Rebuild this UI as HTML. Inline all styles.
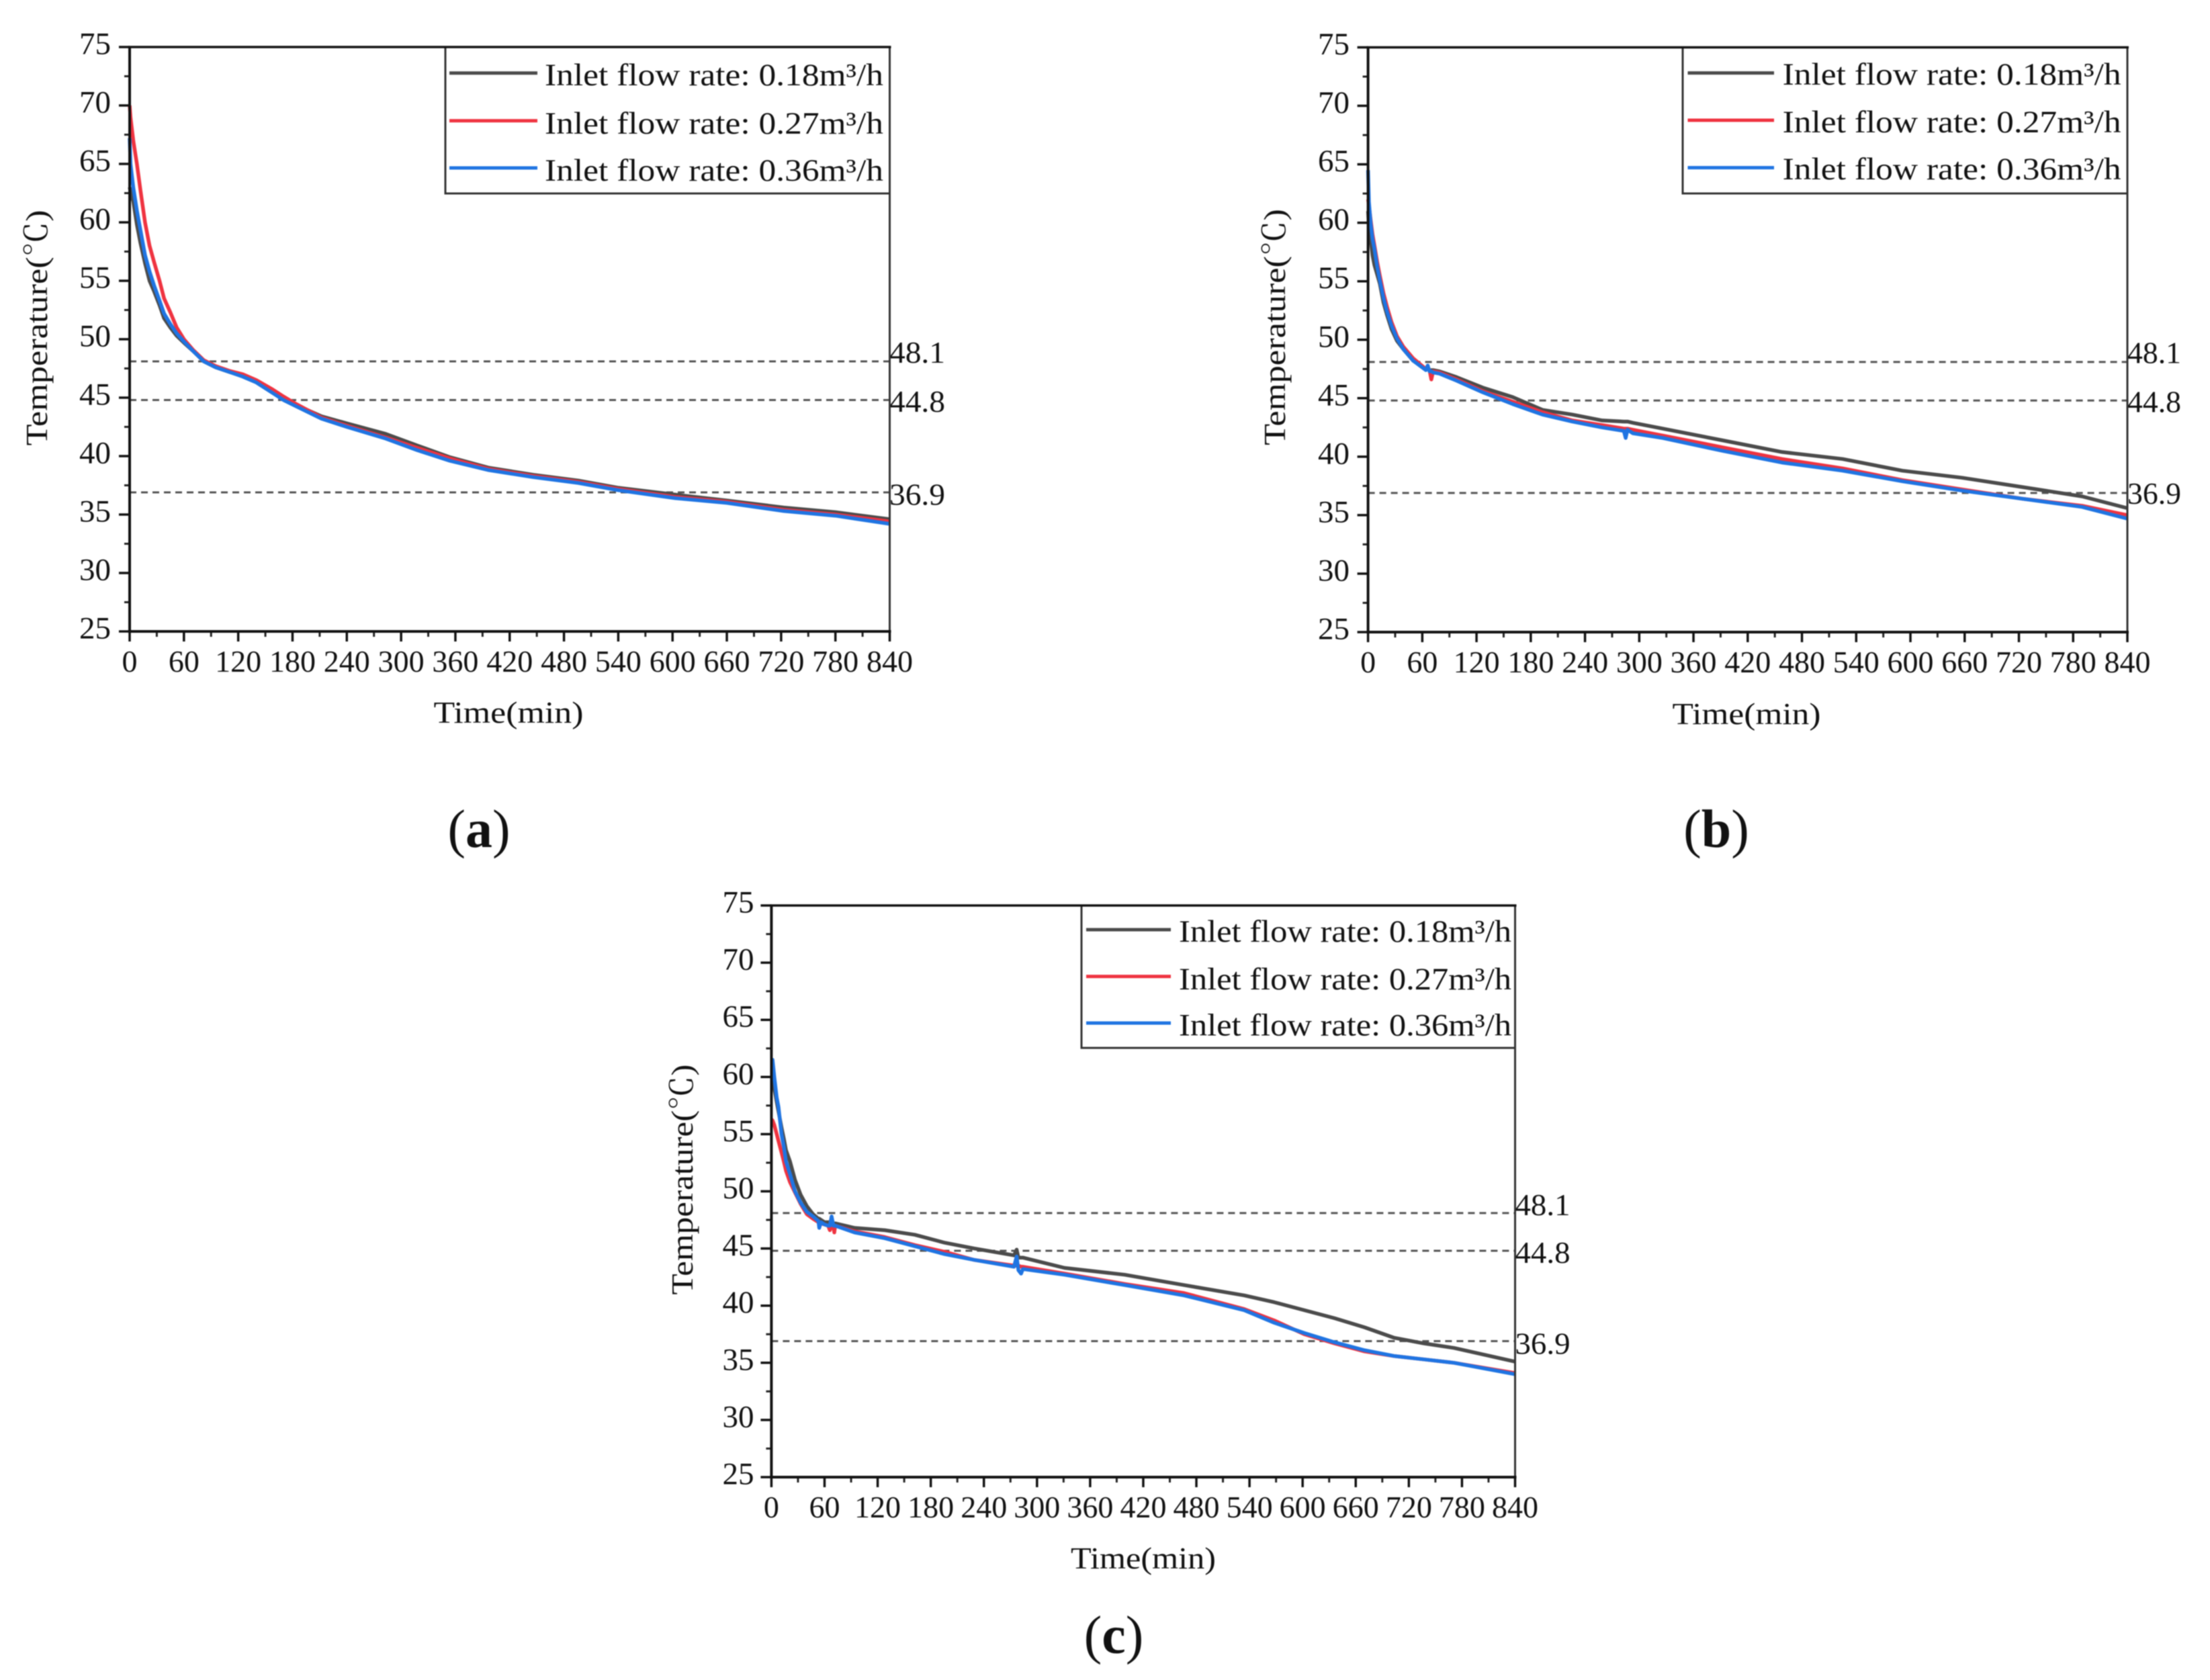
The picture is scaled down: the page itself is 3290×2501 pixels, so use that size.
<!DOCTYPE html>
<html lang="en">
<head>
<meta charset="utf-8">
<title>Temperature vs. time at three inlet flow rates</title>
<style>
html,body{margin:0;padding:0;background:#fff;width:3290px;height:2501px;overflow:hidden}
svg{display:block;filter:blur(0.7px)}
text{font-family:"Liberation Serif","Noto Serif CJK SC",serif;fill:#111}
</style>
</head>
<body>
<svg id="figure" xmlns="http://www.w3.org/2000/svg" width="3290" height="2501" viewBox="0 0 3290 2501">
  <rect x="0" y="0" width="3290" height="2501" fill="#ffffff"/>
</svg>
<script>
// ---------- shared chart values ----------
const yTickLabels = [25,30,35,40,45,50,55,60,65,70,75];
const xTickLabels = [0,60,120,180,240,300,360,420,480,540,600,660,720,780,840];
const refLevels = [48.1,44.8,36.9];
const seriesNames = ['Inlet flow rate: 0.18m³/h','Inlet flow rate: 0.27m³/h','Inlet flow rate: 0.36m³/h'];

// ---------- panel (a) ----------
const timeA  = [0,1,4,8,12,17,22,27,33,38,45,52,60,70,82,95,110,125,140,158,170,183,212,240,283,318,354,397,446,496,539,603,660,723,780,840];
const blackA = [63,62.6,61.8,59.8,58.2,56.5,55,54.1,52.9,51.8,51,50.3,49.7,49,48.1,47.6,47.2,46.9,46.4,45.5,44.9,44.4,43.4,42.8,41.9,40.9,39.9,39,38.4,37.9,37.3,36.7,36.2,35.6,35.2,34.6];
const redA   = [70,69,67,65,62.7,60,58,56.6,55,53.5,52.3,51,50,49.1,48.2,47.7,47.3,47,46.5,45.7,45.1,44.5,43.3,42.6,41.6,40.7,39.8,38.9,38.3,37.8,37.2,36.5,36.1,35.4,35,34.4];
const blueA  = [67.2,65,63,61,59.3,57.2,55.8,54.6,53.3,52.2,51.3,50.5,49.8,49,48.1,47.6,47.2,46.8,46.3,45.4,44.8,44.3,43.2,42.5,41.5,40.5,39.6,38.8,38.2,37.7,37.1,36.4,36,35.3,34.9,34.2];

// ---------- panel (b) ----------
const timeB  = [0,1,3,5,7,10,13,17,21,26,32,39,50,64,66,68,70,72,79,98,127,160,193,226,259,283,285,287,293,326,392,458,525,591,657,724,790,840];
const blackB = [61,59.6,58.5,57.2,56.4,55.6,54.8,53.2,52.1,50.9,49.9,49.2,48.2,47.5,47.5,47.4,47.4,47.4,47.3,46.8,45.9,45.1,44,43.6,43.1,43,43,43,42.9,42.4,41.4,40.4,39.8,38.8,38.2,37.4,36.6,35.6];
const redB   = [62,61.5,60.2,59,58.1,56.7,55.5,54,52.8,51.5,50.3,49.4,48.4,47.5,47.5,47.4,46.6,47.3,47.2,46.6,45.6,44.7,43.8,43.1,42.7,42.4,42.4,42.4,42.3,41.8,40.8,39.8,39,38,37.2,36.4,35.8,35];
const blueB  = [64.5,61.8,59.9,58.6,57.8,56.3,55.1,53.6,52.4,51.2,50.1,49.2,48.2,47.4,47.8,47.3,47.3,47.2,47.1,46.5,45.5,44.5,43.6,43,42.5,42.2,41.6,42.3,42,41.6,40.5,39.5,38.8,37.9,37.1,36.4,35.7,34.7];

// ---------- panel (c) ----------
const timeC  = [0,1.3,3.3,6,8,11.4,14,16.5,21,26.6,33,40,47,53,54,56,60,64,66,68,70,71,72,94,128,162,196,229,274,277,279,282,284,331,399,466,534,568,602,636,670,703,737,771,840];
const blackC = [60,60,59,57.8,57,55.6,54.6,53.6,52.6,51,49.7,48.7,48,47.6,47.6,47.5,47.3,47.3,47.3,47.3,47.2,47.2,47.2,46.8,46.6,46.2,45.5,45,44.4,44.9,44.2,44.2,44.2,43.3,42.7,41.8,40.9,40.3,39.6,38.9,38.1,37.2,36.7,36.3,35.1];
const redC   = [56.3,56.2,55.8,55,54.4,53.4,52.6,51.8,50.8,49.9,48.9,48,47.6,47.3,47.2,47.2,47.1,47,46.6,47,47,46.4,47,46.5,46,45.3,44.7,44,43.5,43.5,43.5,43.4,43.4,42.8,41.9,41.1,39.7,38.7,37.5,36.7,36,35.6,35.3,35,34.1];
const blueC  = [61.5,61.5,60,58.2,57.4,55,53.9,52.6,51.5,50,49,48.2,47.8,47.4,46.8,47.3,47.1,47,47,47.8,47,47,47,46.4,45.9,45.2,44.5,44,43.4,44.3,43.1,42.8,43.2,42.7,41.8,40.9,39.6,38.5,37.6,36.8,36.1,35.6,35.3,35,34];

// ---------- layout (not data) ----------
const seriesColors = ['#4b4b4b','#ef3340','#1f74e2'];
const panels = [
  {id:'a', time:timeA, series:[blackA,redA,blueA], left:193, right:1324.5, top:70, bottom:940,
   yLabelRight:165, yTitleX:70, yTitleMid:488, yTitleLen:351,
   xTitleMid:757, xTitleBase:1076, xTitleLen:223,
   capMid:713, capBase:1261,
   legLeft:663, legBottom:288, swatchL:669, swatchR:800, textX:811, textLen:504,
   swatchY:[108.7,179.7,250], legBase:[127,199,269],
   refX:1324, refLen:83, refBase:[540,613,751.5]},
  {id:'b', time:timeB, series:[blackB,redB,blueB], left:2036.6, right:3167, top:70.5, bottom:941,
   yLabelRight:2009, yTitleX:1913, yTitleMid:487, yTitleLen:352,
   xTitleMid:2600, xTitleBase:1078, xTitleLen:221,
   capMid:2555, capBase:1261,
   legLeft:2505, legBottom:288, swatchL:2512.5, swatchR:2641, textX:2653.6, textLen:504,
   swatchY:[108.6,179,249.6], legBase:[126,197,267],
   refX:3167, refLen:80, refBase:[540.6,613.6,750]},
  {id:'c', time:timeC, series:[blackC,redC,blueC], left:1148.4, right:2255.5, top:1348, bottom:2199,
   yLabelRight:1122.5, yTitleX:1031, yTitleMid:1756, yTitleLen:343,
   xTitleMid:1702, xTitleBase:2335, xTitleLen:216,
   capMid:1658, capBase:2461,
   legLeft:1610, legBottom:1560, swatchL:1617, swatchR:1743, textX:1755, textLen:495,
   swatchY:[1384,1453.6,1523], legBase:[1402,1473,1541.6],
   refX:2255.5, refLen:82, refBase:[1809,1880,2015.5]}
];

const NS = 'http://www.w3.org/2000/svg';
const root = document.getElementById('figure');
function make(parent, tag, attrs, txt){
  const el = document.createElementNS(NS, tag);
  for (const k in attrs) el.setAttribute(k, attrs[k]);
  if (txt !== undefined) el.textContent = txt;
  parent.appendChild(el);
  return el;
}

panels.forEach(function(p){
  const xOf = function(v){ return p.left + (v - 0) / (840 - 0) * (p.right - p.left); };
  const yOf = function(v){ return p.bottom - (v - 25) / (75 - 25) * (p.bottom - p.top); };

  const g = make(root, 'g', {});
  
  

  // reference dashed lines
  refLevels.forEach(function(level, i){
    const line = make(g, 'line', {x1:p.left, x2:p.right, y1:yOf(level), y2:yOf(level), stroke:'#555', 'stroke-width':3, 'stroke-dasharray':'10 7'});
    
    
    const t = make(g, 'text', {x:p.refX, y:p.refBase[i], 'font-size':46, textLength:p.refLen, lengthAdjust:'spacingAndGlyphs'}, String(level));
    
    
  });

  // series
  p.series.forEach(function(vals, i){
    const pts = vals.map(function(v, j){ return xOf(p.time[j]).toFixed(1) + ',' + yOf(v).toFixed(1); }).join(' ');
    const line = make(g, 'polyline', {points:pts, fill:'none', stroke:seriesColors[i], 'stroke-width':5.5, 'stroke-linejoin':'round'});
    
    
  });

  // y ticks and labels
  for (let k = 0; k < yTickLabels.length; k++){
    const v = yTickLabels[k];
    const tick = make(g, 'line', {x1:p.left - 16, x2:p.left, y1:yOf(v), y2:yOf(v), stroke:'#111', 'stroke-width':3.5});
    
    
    const label = make(g, 'text', {x:p.yLabelRight, y:yOf(v) + 10.5, 'font-size':47, 'text-anchor':'end'}, String(v));
    
    
    if (k < yTickLabels.length - 1){
      const mid = (v + yTickLabels[k + 1]) / 2;
      const minor = make(g, 'line', {x1:p.left - 8, x2:p.left, y1:yOf(mid), y2:yOf(mid), stroke:'#222', 'stroke-width':3});
      
      
    }
  }

  // x ticks and labels
  for (let k = 0; k < xTickLabels.length; k++){
    const v = xTickLabels[k];
    const tick = make(g, 'line', {x1:xOf(v), x2:xOf(v), y1:p.bottom, y2:p.bottom + 15, stroke:'#111', 'stroke-width':3.5});
    
    
    const label = make(g, 'text', {x:xOf(v), y:p.bottom + 60, 'font-size':46, 'text-anchor':'middle'}, String(v));
    
    
    if (k < xTickLabels.length - 1){
      const mid = (v + xTickLabels[k + 1]) / 2;
      const minor = make(g, 'line', {x1:xOf(mid), x2:xOf(mid), y1:p.bottom, y2:p.bottom + 8, stroke:'#222', 'stroke-width':3});
      
      
    }
  }

  // plot frame
  const frame = make(g, 'rect', {x:p.left, y:p.top, width:p.right - p.left, height:p.bottom - p.top, fill:'none', stroke:'#333', 'stroke-width':3});
  
  
  const leftEdge = make(g, 'line', {x1:p.left, x2:p.left, y1:p.top, y2:p.bottom, stroke:'#111', 'stroke-width':4});
  
  
  const bottomEdge = make(g, 'line', {x1:p.left - 2, x2:p.right + 2, y1:p.bottom, y2:p.bottom, stroke:'#111', 'stroke-width':4});
  
  

  // axis titles
  const xt = make(g, 'text', {x:p.xTitleMid, y:p.xTitleBase, 'font-size':46, 'text-anchor':'middle', textLength:p.xTitleLen, lengthAdjust:'spacingAndGlyphs'}, 'Time(min)');
  
  
  const yt = make(g, 'text', {x:0, y:0, 'font-size':46, 'text-anchor':'middle', textLength:p.yTitleLen, lengthAdjust:'spacingAndGlyphs', transform:'translate(' + p.yTitleX + ' ' + p.yTitleMid + ') rotate(-90)'}, 'Temperature(℃)');
  
  

  // legend
  const lg = make(g, 'g', {});
  
  
  const box = make(lg, 'rect', {x:p.legLeft, y:p.top, width:p.right - p.legLeft, height:p.legBottom - p.top, fill:'#fff', stroke:'#333', 'stroke-width':3});
  
  
  seriesNames.forEach(function(name, i){
    const sw = make(lg, 'line', {x1:p.swatchL, x2:p.swatchR, y1:p.swatchY[i], y2:p.swatchY[i], stroke:seriesColors[i], 'stroke-width':5});
    
    
    const lt = make(lg, 'text', {x:p.textX, y:p.legBase[i], 'font-size':47, textLength:p.textLen, lengthAdjust:'spacingAndGlyphs'}, name);
    
    
  });

  // top edge, drawn over the legend box
  const topEdge = make(g, 'line', {x1:p.left - 2, x2:p.right + 2, y1:p.top, y2:p.top, stroke:'#111', 'stroke-width':3.5});
  
  

  // caption
  const cap = make(g, 'text', {x:p.capMid, y:p.capBase, 'font-size':80, 'text-anchor':'middle'});
  
  
  make(cap, 'tspan', {}, '(');
  make(cap, 'tspan', {'font-weight':'bold'}, p.id);
  make(cap, 'tspan', {}, ')');
});
</script>
</body>
</html>
